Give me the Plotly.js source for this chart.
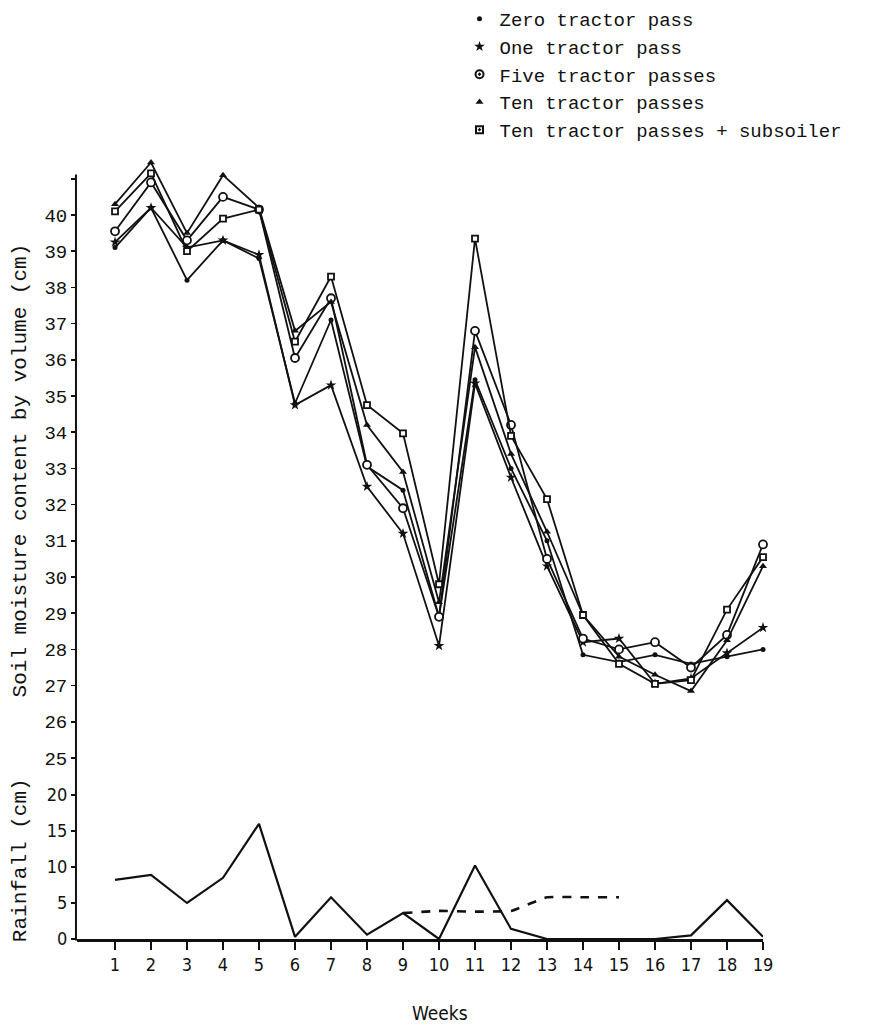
<!DOCTYPE html>
<html>
<head>
<meta charset="utf-8">
<script src="https://cdn.plot.ly/plotly-3.0.1.min.js"></script>
<style>html,body{margin:0;padding:0;background:#fff;}#chart{width:882px;height:1028px;}</style>
</head>
<body>
<div id="chart"></div>
<script>
const weeks = [1,2,3,4,5,6,7,8,9,10,11,12,13,14,15,16,17,18,19];
const seriesNames = ["Zero tractor pass","One tractor pass","Five tractor passes","Ten tractor passes","Ten tractor passes + subsoiler"];
const zeroPass = [39.1,40.2,38.2,39.3,38.8,34.8,37.1,33.05,32.4,28.9,35.45,33.0,31.0,27.85,27.65,27.85,27.6,27.8,28.0];
const onePass  = [39.25,40.2,39.1,39.3,38.9,34.75,35.3,32.5,31.2,28.1,35.35,32.75,30.3,28.2,28.3,27.05,27.2,27.9,28.6];
const fivePass = [39.55,40.9,39.3,40.5,40.15,36.05,37.7,33.1,31.9,28.9,36.8,34.2,30.5,28.3,28.0,28.2,27.5,28.4,30.9];
const tenPass  = [40.3,41.45,39.5,41.1,40.2,36.8,37.6,34.2,32.9,29.3,36.35,33.4,31.25,28.95,27.8,27.3,26.85,28.25,30.3];
const tenSub   = [40.1,41.15,39.0,39.9,40.15,36.5,38.3,34.75,33.97,29.8,39.35,33.9,32.15,28.95,27.6,27.05,27.15,29.1,30.55];
const rainfall = [8.2,8.9,5.0,8.5,16.0,0.3,5.8,0.6,3.6,0.0,10.2,1.4,0.0,0.0,0.1,0.0,0.5,5.4,0.3];
const dashWeeks = [9,10,11,12,13,14,15];
const dashRain  = [3.6,3.9,3.8,3.9,5.8,5.8,5.8];
const soilTicks = [25,26,27,28,29,30,31,32,33,34,35,36,37,38,39,40,41];
const soilTickText = ["25","26","27","28","29","30","31","32","33","34","35","36","37","38","39","40",""];
const rainTicks = [0,5,10,15,20];

const ink = "#111";
const markerStyles = [
  {symbol:"circle", size:5, color:ink, line:{width:0}},
  {symbol:"star", size:8, color:ink, line:{width:0}},
  {symbol:"circle", size:8, color:"#fff", line:{color:ink, width:1.8}},
  {symbol:"triangle-up", size:7, color:ink, line:{width:0}},
  {symbol:"square", size:6, color:"#fff", line:{color:ink, width:1.8}}
];
const legendMarkers = [
  {symbol:"circle", size:5, color:ink},
  {symbol:"star", size:8, color:ink},
  {symbol:"circle-dot", size:8, color:"#fff", line:{color:ink, width:2}},
  {symbol:"triangle-up", size:7, color:ink},
  {symbol:"square-dot", size:7, color:"#fff", line:{color:ink, width:2}}
];
const soilData = [zeroPass, onePass, fivePass, tenPass, tenSub];
const traces = [];
soilData.forEach((ys,i)=>{
  traces.push({x:weeks, y:ys, xaxis:"x", yaxis:"y", mode:"lines+markers", showlegend:false,
    line:{color:ink, width:1.8}, marker:markerStyles[i], cliponaxis:false, name:seriesNames[i]});
});
seriesNames.forEach((n,i)=>{
  traces.push({x:[null], y:[null], xaxis:"x", yaxis:"y", mode:"markers", name:n, showlegend:true, marker:legendMarkers[i]});
});
traces.push({x:weeks, y:rainfall, xaxis:"x", yaxis:"y2", mode:"lines", showlegend:false, line:{color:ink, width:2.2}, cliponaxis:false});
traces.push({x:dashWeeks, y:dashRain, xaxis:"x", yaxis:"y2", mode:"lines", showlegend:false, line:{color:ink, width:2.6, dash:"dash", shape:"spline", smoothing:0.3}, cliponaxis:false});

const monoFont = "Liberation Mono, DejaVu Sans Mono, monospace";
const narrowFont = "Liberation Sans Narrow, DejaVu Sans Condensed, Liberation Sans, sans-serif";
const rainFrac = 163/789;
const layout = {
  width:882, height:1028,
  margin:{l:77, r:119, t:150, b:89, autoexpand:false},
  paper_bgcolor:"#fff", plot_bgcolor:"#fff",
  showlegend:true,
  legend:{xref:"container", yref:"container", x:0.521, y:1.0, xanchor:"left", yanchor:"top", bgcolor:"rgba(0,0,0,0)",
    font:{family:monoFont, size:19, color:ink}, itemwidth:30, tracegroupgap:0},
  xaxis:{range:[-0.056,19], anchor:"y2", showgrid:false, zeroline:false, showline:true, linecolor:ink, linewidth:2.5,
    ticks:"outside", ticklen:8, tickwidth:1.5, tickcolor:ink, tickvals:weeks,
    tickfont:{family:narrowFont, size:18, color:ink}},
  yaxis:{domain:[rainFrac,1], range:[24.503,24.503+626/36.2], anchor:"x", showgrid:false, zeroline:false, showline:false,
    ticks:"outside", ticklen:5, tickwidth:1.5, tickcolor:ink,
    tickvals:soilTicks, ticktext:soilTickText, tickfont:{family:monoFont, size:19, color:ink}},
  yaxis2:{domain:[0,rainFrac], range:[0,22.64], anchor:"x", showgrid:false, zeroline:false, showline:false,
    ticks:"outside", ticklen:5, tickwidth:1.5, tickcolor:ink,
    tickvals:rainTicks, tickfont:{family:narrowFont, size:18, color:ink}},
  shapes:[
    {type:"line", xref:"paper", yref:"paper", x0:-0.0015, x1:-0.0015, y0:-0.002, y1:0.969, line:{color:ink, width:2}}
  ],
  annotations:[
    {text:"Soil moisture content by volume (cm)", xref:"paper", yref:"paper", x:-0.083, y:0.594, textangle:-90,
      showarrow:false, xanchor:"center", yanchor:"middle", font:{family:monoFont, size:21, color:ink}},
    {text:"Rainfall (cm)", xref:"paper", yref:"paper", x:-0.083, y:0.10, textangle:-90,
      showarrow:false, xanchor:"center", yanchor:"middle", font:{family:monoFont, size:21, color:ink}},
    {text:"Weeks", xref:"paper", yref:"paper", x:0.529, y:-0.094, showarrow:false,
      xanchor:"center", yanchor:"middle", font:{family:narrowFont, size:19, color:ink}}
  ]
};
Plotly.newPlot("chart", traces, layout, {staticPlot:true, displayModeBar:false});
</script>
</body>
</html>
